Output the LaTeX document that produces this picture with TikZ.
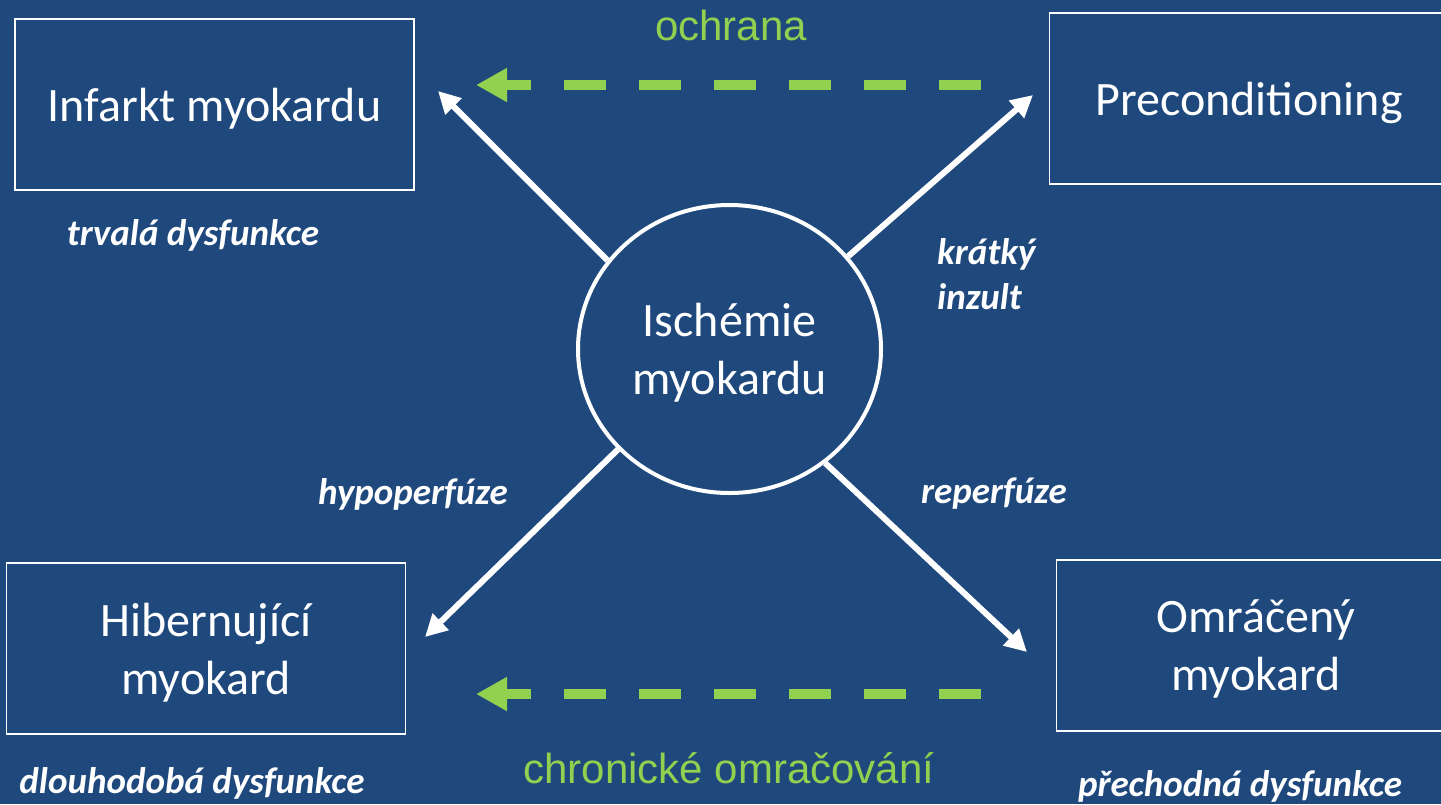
\documentclass[tikz,border=0pt]{standalone}
\usepackage{fontspec}
\setmainfont{Carlito}
\newfontfamily\arialf{Liberation Sans}
\usetikzlibrary{arrows.meta,shapes.geometric}
\definecolor{bgblue}{RGB}{31,73,125}
\definecolor{lgreen}{RGB}{146,208,80}
\begin{document}
\begin{tikzpicture}[x=1pt,y=-1pt,
  box/.style={draw=white, line width=1.8pt, rectangle, minimum width=399pt,
    minimum height=171pt, inner sep=0pt, text=white, align=center, text depth=0pt,
    font=\fontsize{48}{58}\selectfont},
  circ/.style={draw=white, line width=4pt, ellipse, minimum width=303pt,
    minimum height=288pt, inner sep=0pt, text=white, align=center, text depth=0pt,
    font=\fontsize{48}{58}\selectfont},
  lbl/.style={text=white, inner sep=0pt, align=left,
    font=\fontsize{37}{45}\selectfont\bfseries\itshape},
  glbl/.style={text=lgreen, inner sep=0pt, font=\arialf\fontsize{42}{50}\selectfont},
  warrow/.style={draw=white, line width=6pt, -{Triangle[length=22pt,width=22pt]}},
  garrow/.style={draw=lgreen, line width=10pt, dash pattern=on 42pt off 33pt,
    -{Triangle[length=31pt,width=32pt]}}
]
\useasboundingbox (0,0) rectangle (1441,804);
\fill[bgblue] (0,0) rectangle (1441,804);

% boxes
\node[box] (infarkt) at (214.5,104.5) {Infarkt myokardu};
\node[box] (precond) at (1249,98.5) {Preconditioning};
\node[box] (hibern) at (206,648.5) {Hibernující\\myokard};
\node[box] (omrac) at (1256,645.5) {Omráčený\\myokard};
\node[circ] (isch) at (729.5,349) {Ischémie\\myokardu};

% arrow end points
\coordinate (tIM) at (438,91);
\coordinate (tPC) at (1033,95);
\coordinate (tHM) at (425,637);
\coordinate (tOM) at (1027,652);
\draw[warrow] (isch.144) -- (tIM);
\draw[warrow] (isch.38) -- (tPC);
\draw[warrow] (isch.222) -- (tHM);
\draw[warrow] (isch.310) -- (tOM);

% green dashed arrows
\coordinate (gTopS) at (981,85);
\coordinate (gTopE) at (476,85);
\coordinate (gBotS) at (981,694);
\coordinate (gBotE) at (476,694);
\draw[garrow] (gTopS) -- (gTopE);
\draw[garrow] (gBotS) -- (gBotE);

% labels
\node[glbl] (ochrana) at (731,25) {ochrana};
\node[glbl] (chron) at (729,768) {chronické omračování};
\node[lbl] (trvala) at (193,235) {trvalá dysfunkce};
\node[lbl, anchor=west] (kratky) at (937,274) {krátký\\inzult};
\node[lbl] (hypo) at (413,494) {hypoperfúze};
\node[lbl] (reper) at (994,494) {reperfúze};
\node[lbl] (dlouho) at (192,783) {dlouhodobá dysfunkce};
\node[lbl] (prech) at (1240,786) {přechodná dysfunkce};
\end{tikzpicture}
\end{document}
